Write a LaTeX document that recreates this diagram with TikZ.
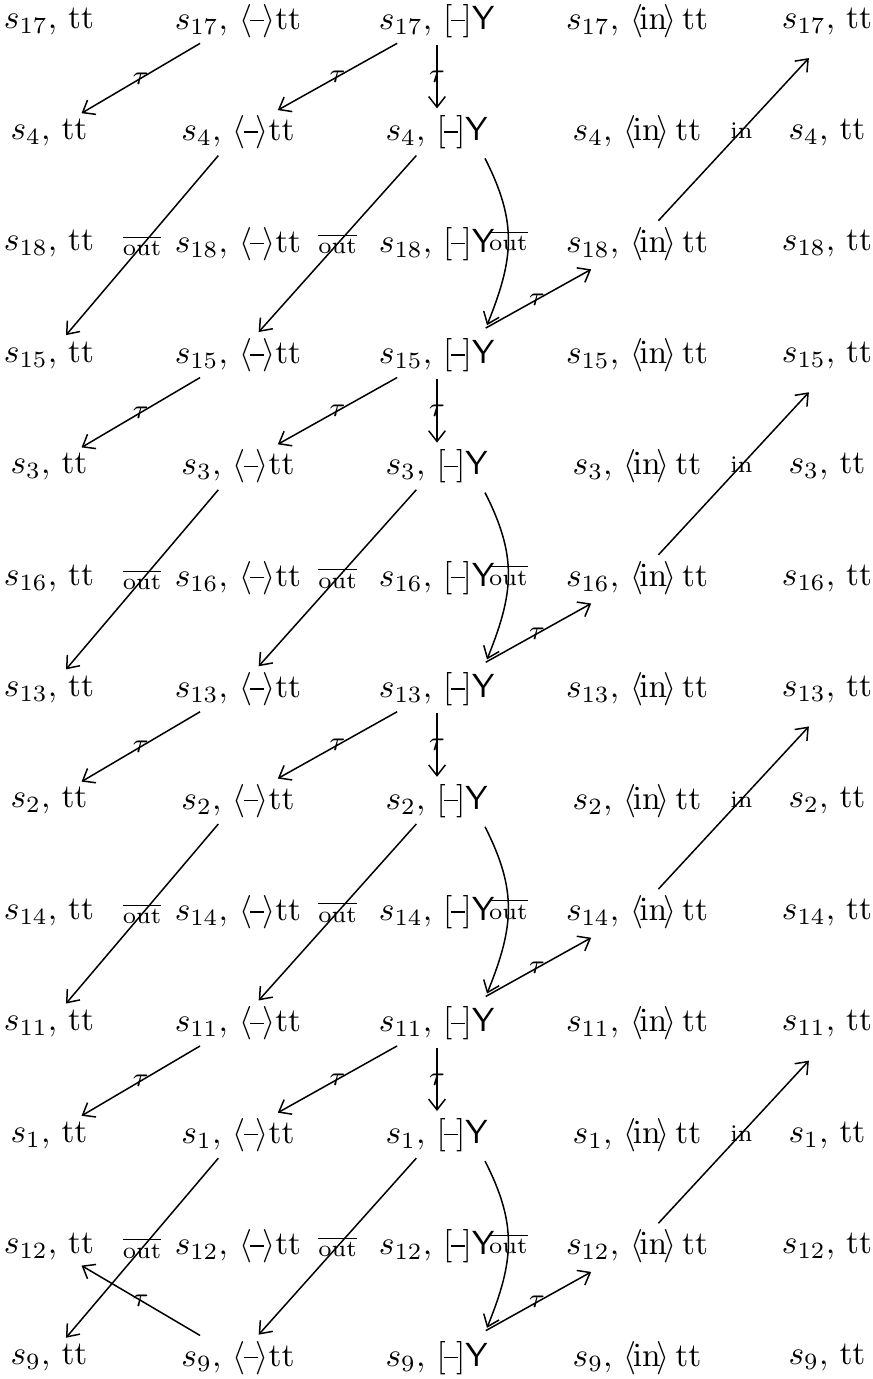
\documentclass[tikz,border=0pt]{standalone}
\usepackage{amsmath}
\usetikzlibrary{arrows.meta,calc}
\newcommand\mydash{\text{\rule[0.24em]{0.42em}{0.4pt}}}
\begin{document}
\begin{tikzpicture}[x=0.3pt,y=-0.3pt,
  st/.style={inner sep=1pt},
  ar/.style={line width=0.45pt,-{Straight Barb[length=3.2pt,width=5pt]},shorten >=1pt,shorten <=1pt},
  tl/.style={inner sep=0pt,font=\footnotesize},
  ol/.style={inner sep=0pt,font=\scriptsize},
  il/.style={inner sep=0pt,font=\scriptsize}]
\useasboundingbox (0,0) rectangle (872,1379);
\foreach \s [count=\i from 0] in {17,4,18,15,3,16,13,2,14,11,1,12,9} {
  \pgfmathsetmacro\yy{21+111.4*\i}
  \node[st] (r\i-1) at (49,\yy)  {$s_{\s},\,\mathrm{tt}$};
  \node[st] (r\i-2) at (238,\yy) {$s_{\s},\,\langle\mkern-1mu\mydash\mkern-1mu\rangle\mathrm{tt}$};
  \node[st] (r\i-3) at (437,\yy) {$s_{\s},\,[\mkern-1mu\mydash\mkern-1mu]\mathsf{Y}$};
  \node[st] (r\i-4) at (637,\yy) {$s_{\s},\,\langle\mkern-2mu\mathrm{in}\mkern-2mu\rangle\,\mathrm{tt}$};
  \node[st] (r\i-5) at (827,\yy) {$s_{\s},\,\mathrm{tt}$};
}
\foreach \t in {0,3,6,9} {
  \pgfmathtruncatemacro\a{\t+1}
  \pgfmathtruncatemacro\b{\t+2}
  \pgfmathtruncatemacro\c{\t+3}
  \draw[ar] (r\t-2) -- node[tl]{$\tau$} (r\a-1);
  \draw[ar] (r\t-3) -- node[tl]{$\tau$} (r\a-2);
  \draw[ar] (r\t-3) -- node[tl]{$\tau$} (r\a-3);
  \draw[ar] (r\a-2) -- node[ol]{$\overline{\mathrm{out}}$} (r\c-1);
  \draw[ar] (r\a-3) -- node[ol]{$\overline{\mathrm{out}}$} (r\c-2);
  \draw[ar,shorten <=0pt,shorten >=0pt] ($(r\a-3.center)+(48,26)$) to[out=-63,in=68,looseness=1.1] node[ol]{$\overline{\mathrm{out}}$} ($(r\c-3.center)+(50,-30)$);
  \draw[ar,shorten <=4pt,shorten >=3pt] (r\c-3) -- node[tl]{$\tau$} (r\b-4);
  \draw[ar,shorten >=8pt] (r\b-4) -- node[il]{$\mathrm{in}$} (r\t-5.south);
}
\draw[ar] (r12-2) -- node[tl]{$\tau$} (r11-1);
\end{tikzpicture}
\end{document}
